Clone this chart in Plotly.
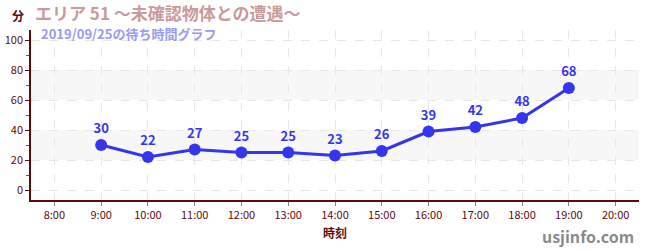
import plotly.graph_objects as go

hours = [9, 10, 11, 12, 13, 14, 15, 16, 17, 18, 19]
waits = [30, 22, 27, 25, 25, 23, 26, 39, 42, 48, 68]
tick_hours = list(range(8, 21))
tick_labels = [f"{h}:00" for h in tick_hours]
title_text = "エリア 51 ～未確認物体との遭遇～"
subtitle_text = "2019/09/25の待ち時間グラフ"

FONT = "Noto Sans CJK JP"
MAROON = "#5c0a0a"

fig = go.Figure()
fig.add_trace(go.Scatter(
    x=hours, y=waits, mode="lines+markers+text",
    text=[str(v) for v in waits], textposition="top center",
    textfont=dict(family=FONT, size=13, color="#3535ee", weight="bold"),
    line=dict(color="#3535ee", width=3),
    marker=dict(color="#3535ee", size=12),
    cliponaxis=False, hoverinfo="skip",
))

shapes = []
for lo, hi in [(20, 40), (60, 80)]:
    shapes.append(dict(type="rect", xref="paper", yref="y", x0=0, x1=1, y0=lo, y1=hi,
                       fillcolor="#f7f7f7", line_width=0, layer="below"))
fig.update_layout(
    width=650, height=250,
    margin=dict(l=31, r=11, t=30, b=50),
    paper_bgcolor="white", plot_bgcolor="white",
    showlegend=False,
    shapes=shapes,
    font=dict(family=FONT, color=MAROON),
    xaxis=dict(
        range=[7.5, 20.5], tickvals=tick_hours, ticktext=tick_labels,
        automargin=False,
        showline=True, linecolor=MAROON, linewidth=1.5,
        ticks="outside", ticklen=4, tickcolor="#888",
        tickfont=dict(family=FONT, size=11, color=MAROON),
        showgrid=True, gridcolor="#e6e6e6", griddash="dash", gridwidth=1,
        zeroline=False,
        title=dict(text="<b>時刻</b>", font=dict(family=FONT, size=12, color=MAROON), standoff=9),
    ),
    yaxis=dict(
        range=[-6.67, 106.67], tickvals=[0, 20, 40, 60, 80, 100],
        automargin=False,
        showline=True, linecolor=MAROON, linewidth=1.5,
        ticks="outside", ticklen=4, tickcolor=MAROON,
        tickfont=dict(family=FONT, size=11, color=MAROON),
        showgrid=True, gridcolor="#e6e6e6", griddash="dash", gridwidth=1,
        zeroline=False,
        minor=dict(tickvals=[10, 30, 50, 70, 90], ticks="outside", ticklen=3,
                   tickcolor="#dd2222", showgrid=False),
    ),
    annotations=[
        dict(text="<b>分</b>", xref="paper", yref="paper", x=0.0, y=1.0, xshift=-13, yshift=15,
             xanchor="center", yanchor="middle", showarrow=False,
             font=dict(family=FONT, size=12, color=MAROON)),
        dict(text="<b>" + title_text + "</b>", xref="paper", yref="paper", x=0.0, y=1.0,
             xshift=2, yshift=18, xanchor="left", yanchor="middle", showarrow=False,
             font=dict(family=FONT, size=17, color="#c99a9a")),
        dict(text="<b>" + subtitle_text + "</b>", xref="paper", yref="paper", x=0.0, y=1.0,
             xshift=8, yshift=-3, xanchor="left", yanchor="middle", showarrow=False,
             font=dict(family=FONT, size=13, color="#9a9af0")),
        dict(text="<b>usjinfo.com</b>", xref="paper", yref="paper", x=1.0, y=0.0,
             xshift=-3, yshift=-36, xanchor="right", yanchor="middle", showarrow=False,
             font=dict(family=FONT, size=16, color="#8a8a8a")),
    ],
)

fig.write_html("out.html")
